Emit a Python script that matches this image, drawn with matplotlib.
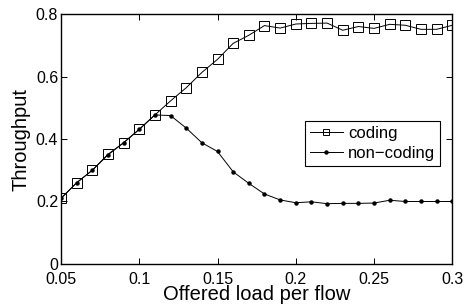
import matplotlib
matplotlib.use("Agg")
import matplotlib.pyplot as plt

# Throughput vs offered load, coding vs non-coding

load = [0.05, 0.06, 0.07, 0.08, 0.09, 0.10, 0.11, 0.12, 0.13, 0.14, 0.15, 0.16, 0.17,
        0.18, 0.19, 0.20, 0.21, 0.22, 0.23, 0.24, 0.25, 0.26, 0.27, 0.28, 0.29, 0.30]
coding = [0.210, 0.260, 0.300, 0.351, 0.388, 0.431, 0.477, 0.522, 0.564, 0.613, 0.655, 0.706, 0.732,
          0.763, 0.755, 0.768, 0.770, 0.771, 0.748, 0.760, 0.754, 0.767, 0.764, 0.751, 0.751, 0.764]
non_coding = [0.210, 0.260, 0.300, 0.349, 0.388, 0.431, 0.477, 0.475, 0.435, 0.388, 0.360, 0.295, 0.258,
              0.224, 0.205, 0.196, 0.199, 0.193, 0.194, 0.194, 0.195, 0.204, 0.200, 0.200, 0.200, 0.200]

xticks = [0.05, 0.1, 0.15, 0.2, 0.25, 0.3]
xticklabels = ["0.05", "0.1", "0.15", "0.2", "0.25", "0.3"]
yticks = [0, 0.2, 0.4, 0.6, 0.8]
yticklabels = ["0", "0.2", "0.4", "0.6", "0.8"]

plt.rcParams["font.family"] = ["Liberation Sans", "DejaVu Sans"]

fig = plt.figure(figsize=(4.66, 3.06), dpi=100)
ax = fig.add_axes([0.1309, 0.1373, 0.8397, 0.8169])

ax.plot(load, coding, color="black", linewidth=0.7, marker="s", markersize=7,
        markerfacecolor="none", markeredgecolor="black", markeredgewidth=0.7, label="coding")
ax.plot(load, non_coding, color="black", linewidth=0.7, marker="o", markersize=2.2,
        markerfacecolor="black", label="non\u2212coding")

ax.set_xlim(0.05, 0.3)
ax.set_ylim(0, 0.8)
ax.set_xticks(xticks)
ax.set_xticklabels(xticklabels)
ax.set_yticks(yticks)
ax.set_yticklabels(yticklabels)
ax.tick_params(direction="in", length=4, width=0.7, top=True, right=True,
               labelsize=11.5, pad=2)
ax.tick_params(axis="x", pad=5.5)
for s in ax.spines.values():
    s.set_linewidth(1.0)

ax.set_xlabel("Offered load per flow", fontsize=14.5, labelpad=-1)
ax.set_ylabel("Throughput", fontsize=14.5, labelpad=4)

leg = ax.legend(loc="upper right", bbox_to_anchor=(0.969, 0.573), fontsize=12,
                frameon=True, fancybox=False, edgecolor="black", framealpha=1,
                handlelength=2.0, handletextpad=0.3, labelspacing=0.3,
                borderpad=0.3, borderaxespad=0)
leg.get_frame().set_linewidth(0.8)
# smaller marker in the legend for the coding entry
leg.legend_handles[0].set_markersize(5)

fig.savefig("out.png", dpi=100)
